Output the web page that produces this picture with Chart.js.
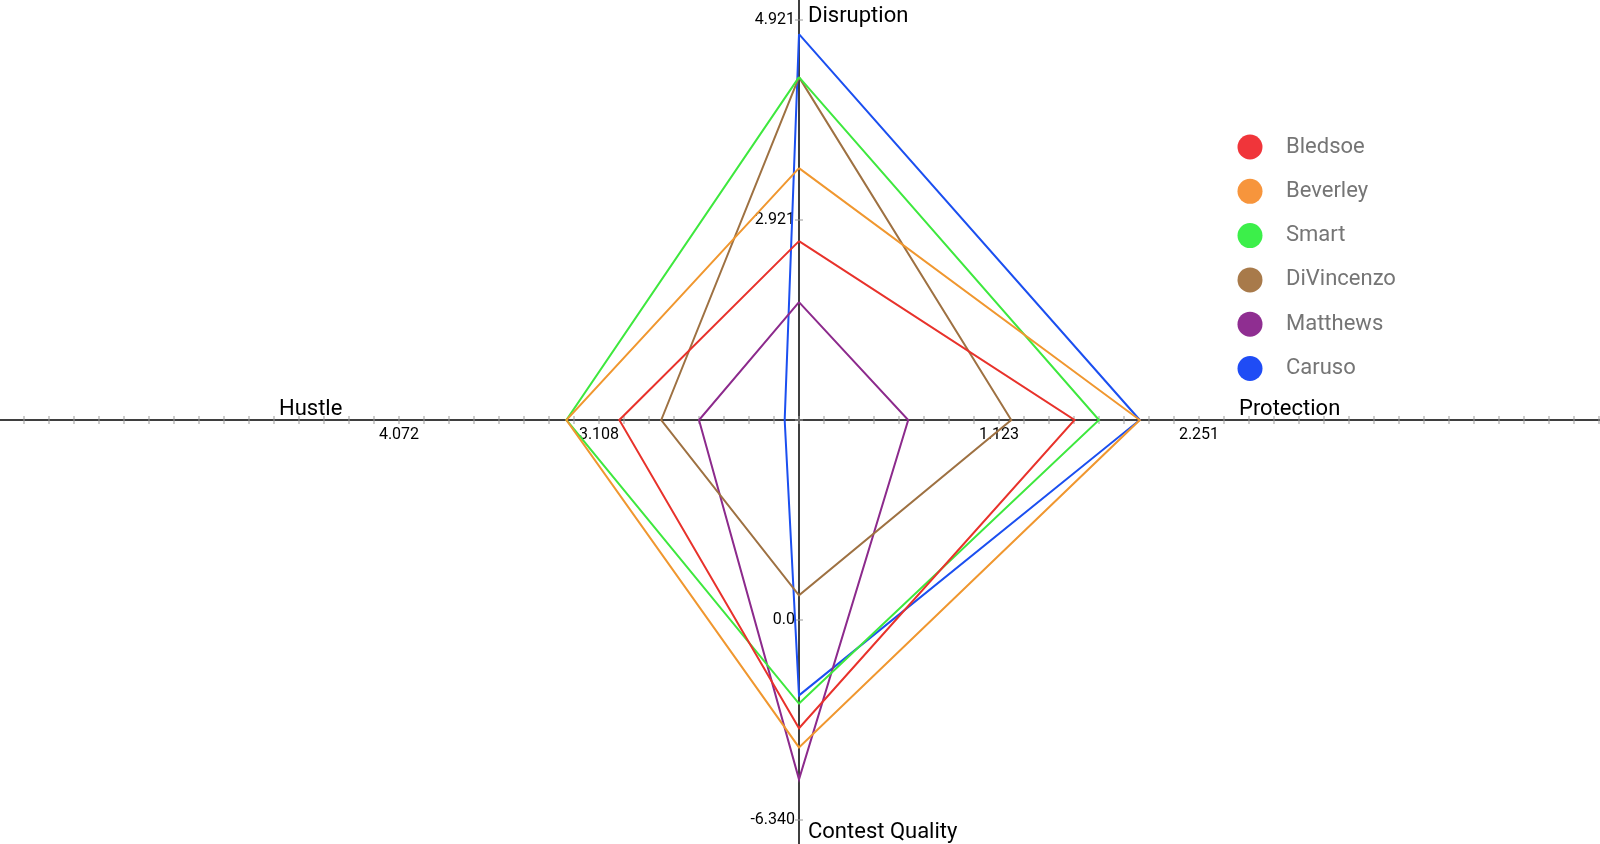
<!DOCTYPE html>
<html>
<head>
<meta charset="utf-8">
<script src="https://cdn.jsdelivr.net/npm/chart.js@4"></script>
<style>
  body { margin: 0; background: #fff; }
  #wrap { width: 1600px; height: 844px; }
</style>
</head>
<body>
<div id="wrap"><canvas id="radar" width="1600" height="844"></canvas></div>
<script>
const players = ['Bledsoe', 'Beverley', 'Smart', 'DiVincenzo', 'Matthews', 'Caruso'];
const colors = ['#e8322b', '#f0972f', '#3ee83e', '#9e7142', '#8c2a8c', '#1b4ff0'];
const legendColors = ['#f0353a', '#f7953c', '#3cef4a', '#a87a4a', '#8f2e91', '#1f4cf5'];

const disruption = [2.71, 3.44, 4.35, 4.35, 2.10, 4.78];
const protection = [1.549, 1.917, 1.687, 1.192, 0.611, 1.917];
const contestQuality = [-3.43, -4.04, -2.65, 0.78, -5.05, -2.39];
const hustle = [3.010, 3.265, 3.265, 2.808, 2.626, 2.213];

// each axis: value at centre, change per tick step, tick labels
const STEP = 200;
const axes = {
  disruption: { center: 0.921, perStep: 2.0, ticks: ['2.921', '4.921'] },
  protection: { center: -0.005, perStep: 1.128, ticks: ['1.123', '2.251'] },
  contest: { center: 6.34, perStep: -6.34, ticks: ['0.0', '-6.340'] },
  hustle: { center: 2.144, perStep: 0.964, ticks: ['3.108', '4.072'] },
};
const dist = (ax, v) => (v - ax.center) / ax.perStep * STEP;

const datasets = players.map((name, i) => {
  const up = dist(axes.disruption, disruption[i]);
  const right = dist(axes.protection, protection[i]);
  const down = dist(axes.contest, contestQuality[i]);
  const left = dist(axes.hustle, hustle[i]);
  return {
    label: name,
    data: [{x: 0, y: up}, {x: right, y: 0}, {x: 0, y: -down}, {x: -left, y: 0}, {x: 0, y: up}],
    borderColor: colors[i],
    borderWidth: 2,
    showLine: true,
    pointRadius: 0,
    tension: 0,
  };
});

const axesPlugin = {
  id: 'crossAxes',
  beforeDatasetsDraw(chart) {
    const c = chart.ctx, sx = chart.scales.x, sy = chart.scales.y;
    const cx = sx.getPixelForValue(0), cy = sy.getPixelForValue(0);
    c.save();
    c.strokeStyle = '#000';
    c.lineWidth = 1.5;
    c.beginPath();
    c.moveTo(chart.chartArea.left, cy); c.lineTo(chart.chartArea.right, cy);
    c.moveTo(cx, chart.chartArea.top); c.lineTo(cx, chart.chartArea.bottom);
    c.stroke();
    c.lineWidth = 1;
    c.strokeStyle = '#999';
    c.beginPath();
    for (let v = -STEP * 4; v <= STEP * 5; v += STEP / 8) {
      const px = sx.getPixelForValue(v);
      c.moveTo(px, cy - 4); c.lineTo(px, cy + 4);
    }
    for (let v = -STEP * 2; v <= STEP * 2; v += STEP) {
      const py = sy.getPixelForValue(v);
      c.moveTo(cx - 4, py); c.lineTo(cx + 4, py);
    }
    c.stroke();
    c.fillStyle = '#000';
    c.font = '16px Roboto, "Open Sans", sans-serif';
    c.textBaseline = 'middle';
    c.textAlign = 'right';
    axes.disruption.ticks.forEach((t, k) => c.fillText(t, cx - 4, sy.getPixelForValue(STEP * (k + 1))));
    axes.contest.ticks.forEach((t, k) => c.fillText(t, cx - 4, sy.getPixelForValue(-STEP * (k + 1))));
    c.textAlign = 'center';
    c.textBaseline = 'top';
    axes.protection.ticks.forEach((t, k) => c.fillText(t, sx.getPixelForValue(STEP * (k + 1)), cy + 7));
    axes.hustle.ticks.forEach((t, k) => c.fillText(t, sx.getPixelForValue(-STEP * (k + 1)), cy + 7));
    c.font = '22px Roboto, "Open Sans", sans-serif';
    c.textAlign = 'left';
    c.textBaseline = 'alphabetic';
    c.fillText('Disruption', cx + 9, 22);
    c.fillText('Contest Quality', cx + 9, 838);
    c.fillText('Protection', 1239, cy - 5);
    c.fillText('Hustle', 279, cy - 5);
    // legend
    c.textBaseline = 'middle';
    players.forEach((p, i) => {
      const y = 147 + i * 44.3;
      c.fillStyle = legendColors[i];
      c.beginPath(); c.arc(1250, y, 12.5, 0, Math.PI * 2); c.fill();
      c.fillStyle = '#757575';
      c.fillText(p, 1286, y);
    });
    c.restore();
  }
};

new Chart(document.getElementById('radar'), {
  type: 'scatter',
  data: { datasets },
  options: {
    responsive: false,
    animation: false,
    layout: { padding: 0 },
    plugins: { legend: { display: false }, tooltip: { enabled: false } },
    scales: {
      x: { type: 'linear', min: -799, max: 801, display: false },
      y: { type: 'linear', min: -424, max: 420, display: false },
    },
  },
  plugins: [axesPlugin],
});
</script>
</body>
</html>
